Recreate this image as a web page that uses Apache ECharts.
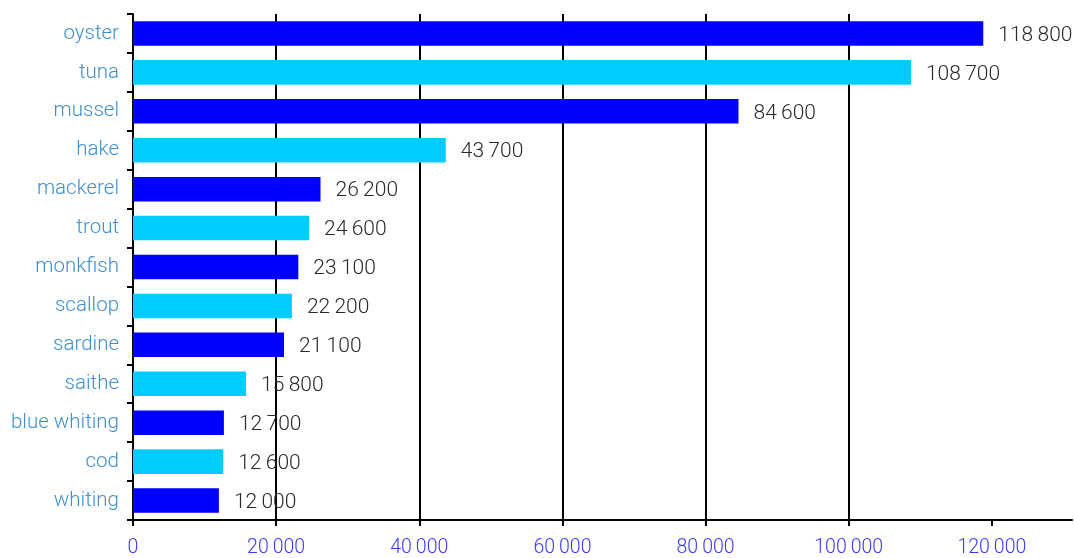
<!DOCTYPE html>
<html>
<head>
<meta charset="utf-8">
<script src="https://cdn.jsdelivr.net/npm/echarts@6/dist/echarts.min.js"></script>
<style>html,body{margin:0;padding:0;background:#fff}#c{width:1074px;height:558px}</style>
</head>
<body>
<div id="c"></div>
<script>
const categories = ["oyster","tuna","mussel","hake","mackerel","trout","monkfish","scallop","sardine","saithe","blue whiting","cod","whiting"];
const values = [118800,108700,84600,43700,26200,24600,23100,22200,21100,15800,12700,12600,12000];
const barColors = ["#0000FF","#00CCFF"];
const xTicks = [0,20000,40000,60000,80000,100000,120000];

function fmt(v){ return String(v).replace(/\B(?=(\d{3})+(?!\d))/g, "\u2009"); }

const chart = echarts.init(document.getElementById('c'), null, {renderer:'canvas'});
const FONT = 'Roboto';
chart.setOption({
  animation:false,
  grid:{left:133,right:2,top:14,bottom:37,containLabel:false},
  xAxis:{
    type:'value', min:0, max:131200, interval:20000,
    axisLine:{show:true,lineStyle:{color:'#000',width:2}},
    axisTick:{show:true,length:6,lineStyle:{color:'#000',width:2},customValues:xTicks},
    splitLine:{show:true,lineStyle:{color:'#000',width:2},showMaxLine:false},
    axisLabel:{color:'#3a3aff',fontFamily:FONT,fontWeight:300,fontSize:19.5,margin:18,
      customValues:xTicks, formatter:v=>fmt(v)}
  },
  yAxis:{
    type:'category', data:categories, inverse:true,
    axisLine:{show:true,lineStyle:{color:'#000',width:2}},
    axisTick:{show:true,length:6,lineStyle:{color:'#000',width:2}},
    axisLabel:{color:'#3f8fd0',fontFamily:FONT,fontWeight:300,fontSize:20.5,margin:14,
      padding:[8,0,0,0]}
  },
  series:[{
    type:'bar',
    data:values.map((v,i)=>({value:v,itemStyle:{color:barColors[i%2]}})),
    barWidth:'63%',
    label:{show:true,position:'right',distance:15,offset:[0,2],color:'#2a2a2a',fontFamily:FONT,fontWeight:300,fontSize:21,
      formatter:p=>fmt(p.value)}
  }]
});
</script>
</body>
</html>
